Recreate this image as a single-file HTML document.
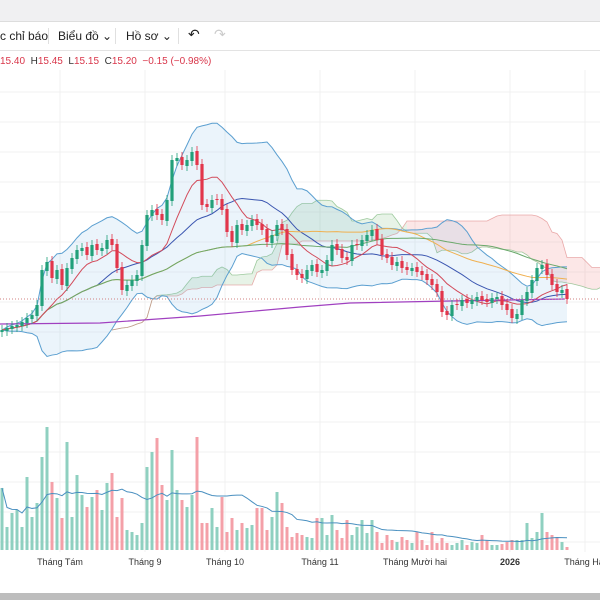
<!DOCTYPE html>
<html><head><meta charset="utf-8"><style>
html,body{margin:0;padding:0;width:600px;height:600px;overflow:hidden;background:#fff;font-family:"Liberation Sans","Noto Sans CJK SC",sans-serif}
#top{position:absolute;left:0;top:0;width:600px;height:21px;background:#f0f0f2;border-bottom:1px solid #ddd}
#tb{position:absolute;left:0;top:22px;width:600px;height:28px;background:#fff;border-bottom:1px solid #e3e3e3;font-size:12px;color:#222}
#tb span{position:absolute;top:7px}
.sep{position:absolute;top:6px;width:1px;height:16px;background:#e0e0e0}
#ohlc{position:absolute;left:0;top:56px;font-size:10px;color:#d9364a;white-space:nowrap}
#ohlc b{font-weight:normal;color:#333}
#bot{position:absolute;left:0;top:593px;width:600px;height:7px;background:#bdbdbd}
svg{position:absolute;left:0;top:0}
</style></head><body>
<div id="top"></div>
<div id="tb">
<span style="left:0">c chỉ báo</span>
<div class="sep" style="left:48px"></div>
<span style="left:58px">Biểu đồ ⌄</span>
<div class="sep" style="left:115px"></div>
<span style="left:126px">Hồ sơ ⌄</span>
<div class="sep" style="left:178px"></div>
<span style="left:188px;font-size:14px;top:4px">↶</span>
<span style="left:214px;font-size:14px;top:4px;color:#ccc">↷</span>
</div>
<div id="ohlc">15.40 &nbsp;<b>H</b>15.45 &nbsp;<b>L</b>15.15 &nbsp;<b>C</b>15.20 &nbsp;−0.15 (−0.98%)</div>
<svg id="c" width="600" height="600"></svg>
<div id="bot"></div>
<script>
const closes=[13.65,13.75,13.85,13.9,14.05,14.25,14.4,14.9,16.65,17.05,16.25,16.65,15.9,16.75,17.25,17.65,17.75,17.4,17.9,17.65,17.75,18.15,17.9,16.75,15.65,15.9,16.15,16.4,17.9,19.4,19.65,19.4,19.15,20.15,22.15,22.25,21.9,22.15,22.55,21.9,19.9,19.8,20.15,20.15,19.65,18.55,18.05,18.9,18.65,18.9,19.15,18.9,18.65,18.05,18.4,18.9,18.65,17.4,16.65,16.4,16.25,16.65,16.9,16.55,16.65,17.15,17.9,17.65,17.25,17.15,17.9,17.9,18.15,18.4,18.65,18.15,17.4,17.25,16.9,17.05,16.75,16.65,16.75,16.55,16.4,16.15,15.9,15.55,14.55,14.4,14.9,14.9,15.15,15.0,15.15,15.3,15.15,15.05,15.25,15.3,14.9,14.65,14.25,14.45,15.15,15.55,16.15,16.75,16.9,16.4,15.9,15.55,15.65,15.2];
const volumes=[62,23,37,40,23,73,33,47,93,123,68,52,32,108,33,75,55,43,53,60,40,67,77,33,52,20,18,15,27,83,98,112,65,50,100,60,50,43,55,113,27,27,42,23,53,18,32,20,27,22,25,42,42,20,33,58,47,23,13,17,15,13,12,32,32,15,35,20,12,30,15,23,30,17,30,18,7,15,10,8,13,10,7,18,10,5,18,7,12,7,5,7,10,5,8,7,15,10,5,5,6,8,10,10,10,27,12,18,37,18,15,13,8,3];
const ma200X=[0,100,200,300,350,450,565];
const ma200V=[13.95,14.0,14.35,14.8,15.0,15.1,15.2];
const monthLabels=["Tháng Tám","Tháng 9","Tháng 10","Tháng 11","Tháng Mười hai","2026","Tháng Hai"];
const monthIdx=[12,29,45,64,83,102,117];

const svg=document.getElementById('c');const NS='http://www.w3.org/2000/svg';
function el(t,a,p){const e=document.createElementNS(NS,t);for(const k in a)e.setAttribute(k,a[k]);(p||svg).appendChild(e);return e;}
const xS=i=>2+i*5;
const yP=p=>299-(p-15.2)*20;
const yV=v=>550-v;
// grid
for(let y=92;y<550;y+=30){const g=el('line',{x1:0,x2:600,y1:y,y2:y,stroke:'#f2f2f2'});}
monthIdx.forEach((m,k)=>{const g=el('line',{x1:xS(m)-2,x2:xS(m)-2,y1:70,y2:552,stroke:'#f0f0f0'});
const t=el('text',{x:xS(m)-2,y:565,'font-size':9,fill:'#333','text-anchor':'middle','font-weight':k==5?'bold':'normal'});t.textContent=monthLabels[k];});
function sma(n,i){let s=0,c=0;for(let j=Math.max(0,i-n+1);j<=i;j++){s+=closes[j];c++;}return s/c;}
function sd(n,i){const m=sma(n,i);let s=0,c=0;for(let j=Math.max(0,i-n+1);j<=i;j++){s+=(closes[j]-m)**2;c++;}return Math.sqrt(s/c);}
function mid(n,i){let a=-1e9,b=1e9;for(let j=Math.max(0,i-n+1);j<=i;j++){a=Math.max(a,closes[j]+0.2);b=Math.min(b,closes[j]-0.2);}return (a+b)/2;}
const N=closes.length;
// ichimoku cloud
const sa=[],sb=[];for(let i=0;i<N;i++){sa.push((mid(9,i)+mid(26,i))/2);sb.push(mid(52,i));}
for(let i=0;i<N-1;i++){const x1=xS(i+22),x2=xS(i+23);const up=sa[i]>=sb[i];
const p=el('polygon',{points:`${x1},${yP(sa[i])} ${x2},${yP(sa[i+1])} ${x2},${yP(sb[i+1])} ${x1},${yP(sb[i])}`,fill:up?'rgba(120,190,120,0.18)':'rgba(240,120,120,0.18)'});}
function path(f,n,col,name,sw,shift){let d='';for(let i=0;i<n;i++){d+=(i?'L':'M')+xS(i+(shift||0))+','+f(i);}const p=el('path',{d,fill:'none',stroke:col,'stroke-width':sw||1});}
path(i=>yP(sa[i]),N,'rgba(100,170,100,0.6)','senkou-a',0.8,22);
path(i=>yP(sb[i]),N,'rgba(220,120,120,0.6)','senkou-b',0.8,22);
// bollinger fill
let bf='';for(let i=0;i<N;i++)bf+=(i?'L':'M')+xS(i)+','+yP(sma(20,i)+2*sd(20,i));for(let i=N-1;i>=0;i--)bf+='L'+xS(i)+','+yP(sma(20,i)-2*sd(20,i));
const bfe=el('path',{d:bf+'Z',fill:'rgba(120,180,230,0.15)'});
path(i=>yP(sma(20,i)+2*sd(20,i)),N,'#5b9fd0','bollinger-upper');
path(i=>yP(sma(20,i)-2*sd(20,i)),N,'#5b9fd0','bollinger-lower');
path(i=>yP(sma(20,i)),N,'#3a55b0','ma20');
path(i=>yP(sma(50,i)),N,'#f0b050','ma50');
path(i=>yP(sma(70,i)),N,'#6aa86a','ma100');
path(i=>yP(sma(10,i)),N,'#d24a5a','ma10');
let pd='';ma200X.forEach((x,k)=>pd+=(k?'L':'M')+x+','+yP(ma200V[k]));
const pe=el('path',{d:pd,fill:'none',stroke:'#a040c0','stroke-width':1.2});
const ll=el('line',{x1:0,x2:600,y1:299,y2:299,stroke:'#d08080','stroke-dasharray':'1 2'});
// candles
for(let i=0;i<N;i++){const c=closes[i],o=i?closes[i-1]+(closes[i]>closes[i-1]?-0.05:0.05):c-0.1;const up=c>=o;const col=up?'#22a07a':'#e2364b';
const x=xS(i);const w=el('line',{x1:x,x2:x,y1:yP(Math.max(o,c)+0.25),y2:yP(Math.min(o,c)-0.25),stroke:col,'stroke-width':0.8});
const t=Math.min(yP(o),yP(c));const b=el('rect',{x:x-1.6,y:t,width:3.2,height:Math.max(1,Math.abs(yP(o)-yP(c))),fill:col});
const vu=i==0||closes[i]>=closes[i-1];const v=el('rect',{x:x-1.5,y:yV(volumes[i]),width:3,height:volumes[i],fill:vu?'#8fd0c0':'#f4a0a8'});}
let vd='';for(let i=0;i<N;i++){let s=0,c=0;for(let j=Math.max(0,i-19);j<=i;j++){s+=volumes[j];c++;}vd+=(i?'L':'M')+xS(i)+','+yV(s/c);}
const ve=el('path',{d:vd,fill:'none',stroke:'#4a90c0','stroke-width':1});
</script></body></html>
